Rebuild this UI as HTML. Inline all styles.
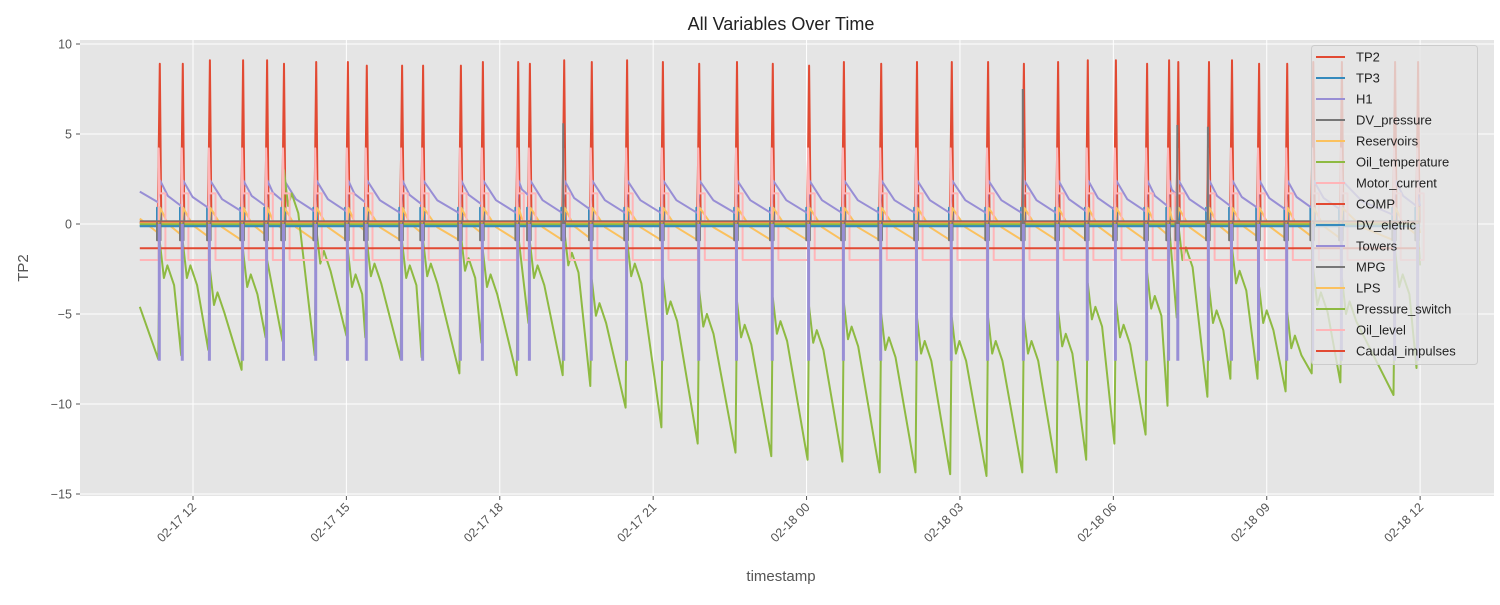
<!DOCTYPE html>
<html><head><meta charset="utf-8"><style>
body{margin:0;background:#fff;font-family:"Liberation Sans",sans-serif}
svg text{font-family:"Liberation Sans",sans-serif}
</style></head><body>
<svg id="c" width="1500" height="600"></svg>
<script>
const cycles=[11.33,11.78,12.31,12.96,13.43,13.76,14.39,15.01,15.38,16.07,16.48,17.22,17.65,18.34,18.57,19.24,19.78,20.47,21.17,21.88,22.62,23.32,24.03,24.71,25.44,26.14,26.82,27.53,28.23,28.90,29.48,30.03,30.64,31.07,31.25,31.85,32.30,32.83,33.38,33.89,34.45,35.49,35.94];
const oilTrough=[-7.5,-7.3,-7.0,-8.1,-6.3,-6.5,-7.3,-6.2,-6.3,-7.5,-7.4,-8.3,-6.6,-8.4,-5.5,-8.4,-9.0,-10.2,-11.3,-12.2,-12.7,-12.9,-13.1,-13.2,-13.8,-13.8,-13.9,-14.0,-13.8,-13.8,-13.1,-12.2,-11.7,-10.1,-5.2,-9.6,-8.6,-8.6,-9.3,-8.3,-8.8,-9.5,-8.0];
const oilPeak=[-1,-1,-2.5,-1.5,-2,3,-0.2,-1.5,-0.9,-1,-0.9,-0.6,-1.5,-0.6,-1.0,-0.3,-3.1,-0.9,-3.0,-3.7,-4.3,-4.1,-4.6,-4.4,-5.0,-5.2,-5.2,-5.2,-5.2,-4.8,-3.3,-4.3,-2.7,-0.1,0,-3.5,-1.3,-3.5,-4.9,-2.5,-3,-1.5,-0.5];
const h1Low=[1.2,1.0,0.9,0.7,1.0,1.3,0.7,0.7,1.2,0.6,1.1,0.6,1.1,0.6,1.6,0.6,0.8,0.6,0.6,0.6,0.6,0.6,0.6,0.6,0.6,0.6,0.6,0.6,0.6,0.6,0.7,0.8,0.7,1.0,1.6,0.7,1.0,0.9,0.8,0.9,0.8,0.5,1.0];
const resLow=[-0.5,-0.6,-0.7,-0.9,-0.6,-0.3,-0.9,-0.9,-0.4,-0.9,-0.5,-0.9,-0.5,-0.9,-0.1,-0.9,-0.8,-0.9,-0.9,-0.9,-0.9,-0.9,-0.9,-0.9,-0.9,-0.9,-0.9,-0.9,-0.9,-0.9,-0.9,-0.8,-0.9,-0.6,-0.1,-0.9,-0.6,-0.7,-0.8,-0.7,-0.8,-0.9,-0.6];
const tp2Peak=[8.9,8.9,9.1,9.1,9.1,8.9,9.0,9.0,8.8,8.8,8.8,8.8,9.0,9.0,8.9,9.1,9.0,9.1,9.0,8.9,9.0,8.9,8.8,9.0,8.9,9.0,9.0,9.0,8.9,9.0,9.1,9.1,8.9,9.1,9.0,9.0,9.1,8.9,8.9,9.0,9.0,9.0,9.0];
const grayUpIdx=[15,28,34,35];
const grayUpVal=[5.6,7.5,5.5,5.4];
const yTicks=[10,5,0,-5,-10,-15];
const xTicks=[12,15,18,21,24,27,30,33,36];
const xTickLabels=["02-17 12","02-17 15","02-17 18","02-17 21","02-18 00","02-18 03","02-18 06","02-18 09","02-18 12"];
const legendNames=["TP2","TP3","H1","DV_pressure","Reservoirs","Oil_temperature","Motor_current","COMP","DV_eletric","Towers","MPG","LPS","Pressure_switch","Oil_level","Caudal_impulses"];
const bandVals=[0.15,0.08,0.03,-0.02,-0.12];
const compVal=-1.35;
const tStart=10.96, tEnd=36.0;

const C={red:"#E24A33",blue:"#348ABD",purple:"#988ED5",gray:"#777777",yellow:"#FBC15E",green:"#8EBA42",pink:"#FFB5B8"};
const legendColors=[C.red,C.blue,C.purple,C.gray,C.yellow,C.green,C.pink,C.red,C.blue,C.purple,C.gray,C.yellow,C.green,C.pink,C.red];
const L=80,R=1494,T=40,B=496;
const X=t=>193+(t-12)*51.13;
const Y=v=>224-18*v;
const NS="http://www.w3.org/2000/svg";
const svg=document.getElementById('c');
function el(tag,attrs,parent){const e=document.createElementNS(NS,tag);for(const k in attrs)e.setAttribute(k,attrs[k]);(parent||svg).appendChild(e);return e;}
function path(pts,color,w,name,parent){
  const d=pts.map((p,i)=>(i?'L':'M')+X(p[0]).toFixed(1)+' '+Y(p[1]).toFixed(1)).join('');
  const e=el('path',{d:d,fill:'none',stroke:color,'stroke-width':w,'stroke-linejoin':'round'},parent);
  
  
  return e;
}
const bg=el('rect',{x:L,y:T,width:R-L,height:B-T,fill:'#E5E5E5'});


yTicks.forEach(v=>{
  const g=el('line',{x1:L,x2:R,y1:Y(v),y2:Y(v),stroke:'#fff','stroke-width':1});
  
  
  el('line',{x1:L-4,x2:L,y1:Y(v),y2:Y(v),stroke:'#555'});
  const t=el('text',{x:L-8,y:Y(v)+4.5,'text-anchor':'end','font-size':12.5,fill:'#555'});
  t.textContent=(v<0?'\u2212'+(-v):v);
  
  
});
xTicks.forEach((h,i)=>{
  const g=el('line',{x1:X(h),x2:X(h),y1:T,y2:B,stroke:'#fff','stroke-width':1});
  
  
  el('line',{x1:X(h),x2:X(h),y1:B,y2:B+4,stroke:'#555'});
  const t=el('text',{x:X(h)+4,y:B+12,'text-anchor':'end','font-size':12.5,fill:'#555',transform:`rotate(-45 ${X(h)+4} ${B+12})`});
  t.textContent=xTickLabels[i];
  
  
});
el('clipPath',{id:'cp'}).appendChild(Object.assign(document.createElementNS(NS,'rect'),{}));
document.querySelector('#cp rect').setAttribute('x',L);document.querySelector('#cp rect').setAttribute('y',T);
document.querySelector('#cp rect').setAttribute('width',R-L);document.querySelector('#cp rect').setAttribute('height',B-T);
const g=el('g',{'clip-path':'url(#cp)'});


const n=cycles.length;
const nextT=i=>i<n-1?cycles[i+1]:tEnd;
// TP2
let p=[[tStart,0.08]];
cycles.forEach((c,i)=>{p.push([c-0.02,0.08],[c,4],[c+0.02,tp2Peak[i]],[c+0.05,0.08]);});
p.push([tEnd,0.08]);path(p,C.red,2,'tp2-line',g);
// TP3
p=[[tStart,-0.1]];
cycles.forEach(c=>{p.push([c-0.035,-0.1],[c-0.035,0.9],[c+0.035,0.9],[c+0.035,-0.1]);});
p.push([tEnd,-0.1]);path(p,C.blue,2,'tp3-line',g);
// H1
p=[[tStart,1.8]];
cycles.forEach((c,i)=>{p.push([c-0.01,h1Low[i]],[c+0.03,2.4]);const nt=nextT(i),lo=i<n-1?h1Low[i+1]:1.0;p.push([c+(nt-c)*0.4,lo+(2.4-lo)*0.4]);});
p.push([tEnd,1.0]);path(p,C.purple,2,'h1-line',g);
// Reservoirs
p=[[tStart,0.3]];
cycles.forEach((c,i)=>{p.push([c-0.01,resLow[i]],[c+0.03,0.9]);const nt=nextT(i),lo=i<n-1?resLow[i+1]:-0.5;p.push([c+(nt-c)*0.4,lo+(0.9-lo)*0.4]);});
p.push([tEnd,-0.5]);path(p,C.yellow,2,'reservoirs-line',g);
// Oil temperature
p=[[tStart,-4.6]];
cycles.forEach((c,i)=>{p.push([c-0.01,oilTrough[i]],[c+0.02,oilPeak[i]]);const pk=oilPeak[i];
 if(nextT(i)-c>0.35)p.push([c+0.1,pk-2],[c+0.17,pk-1.3],[c+0.3,pk-2.4]);});
p.push([tEnd,-2.3]);path(p,C.green,2,'oil-temperature-line',g);
// Motor current
p=[[tStart,-2]];
cycles.forEach(c=>{p.push([c-0.005,-2],[c,4.2],[c+0.02,1.7],[c+0.13,1.7],[c+0.13,-2]);});
p.push([tEnd,-2]);path(p,C.pink,2,'motor-current-line',g);
// COMP
path([[tStart,compVal],[tEnd,compVal]],C.red,2,'comp-line',g);
// bands
const bandCols=[C.gray,C.red,C.yellow,C.green,C.blue];
bandVals.forEach((v,i)=>path([[tStart,v],[tEnd,v]],bandCols[i],2.2,'constant-band-line',g));
// DV_pressure dips
cycles.forEach(c=>path([[c-0.035,0.1],[c-0.035,-0.9],[c+0.035,-0.9],[c+0.035,0.1]],C.gray,2,'dv-pressure-dip',g));
// Towers down spikes
cycles.forEach(c=>path([[c+0.01,0],[c+0.01,-7.6]],C.purple,3,'towers-spike',g));
// MPG up spikes
grayUpIdx.forEach((k,i)=>path([[cycles[k],0],[cycles[k],grayUpVal[i]]],C.gray,2,'mpg-spike',g));
// legend
const lg=el('g',{});


el('rect',{x:1311.5,y:45.5,width:166,height:319,rx:3,fill:'#E5E5E5','fill-opacity':0.8,stroke:'#ccc'},lg);
legendNames.forEach((nm,i)=>{
  const y=57+i*21;
  const ln=el('line',{x1:1316,x2:1345,y1:y,y2:y,stroke:legendColors[i],'stroke-width':2},lg);
  
  
  const t=el('text',{x:1356,y:y+4.5,'font-size':13,fill:'#222'},lg);
  t.textContent=nm;
  
  
});
const tt=el('text',{x:781,y:30,'text-anchor':'middle','font-size':18,fill:'#222'});
tt.textContent='All Variables Over Time';


const xt=el('text',{x:781,y:581,'text-anchor':'middle','font-size':15,fill:'#555'});
xt.textContent='timestamp';


const yt=el('text',{x:28,y:268,'text-anchor':'middle','font-size':15,fill:'#555',transform:'rotate(-90 28 268)'});
yt.textContent='TP2';


</script>
</body></html>
